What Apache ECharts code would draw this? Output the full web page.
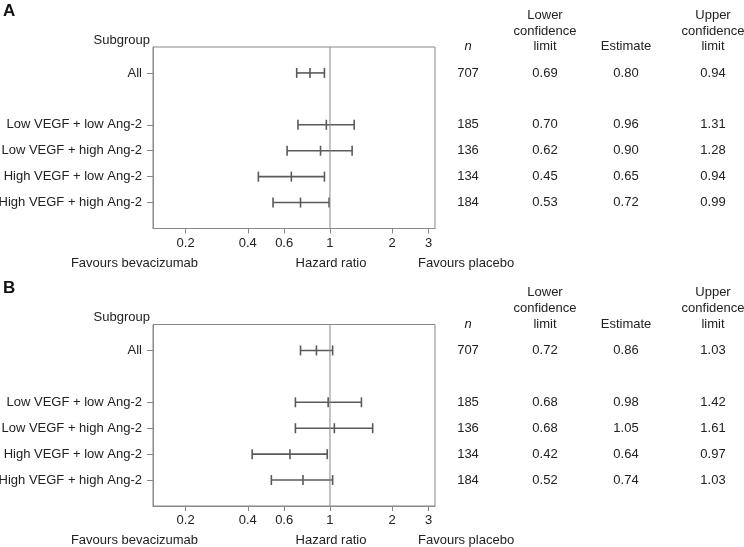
<!DOCTYPE html>
<html>
<head>
<meta charset="utf-8">
<script src="https://cdn.jsdelivr.net/npm/echarts@6/dist/echarts.min.js"></script>
<style>html,body{margin:0;padding:0;background:#fff}#c{width:744px;height:547px}</style>
</head>
<body>
<div id="c"></div>
<script>
// ---- data ----
const subgroups = ['All', 'Low VEGF + low Ang-2', 'Low VEGF + high Ang-2', 'High VEGF + low Ang-2', 'High VEGF + high Ang-2'];
const rowPos = [0, 2, 3, 4, 5];
const nA = [707, 185, 136, 134, 184];
const lowerA = [0.69, 0.70, 0.62, 0.45, 0.53];
const estA = [0.80, 0.96, 0.90, 0.65, 0.72];
const upperA = [0.94, 1.31, 1.28, 0.94, 0.99];
const nB = [707, 185, 136, 134, 184];
const lowerB = [0.72, 0.68, 0.68, 0.42, 0.52];
const estB = [0.86, 0.98, 1.05, 0.64, 0.74];
const upperB = [1.03, 1.42, 1.61, 0.97, 1.03];
const tickValues = [0.2, 0.4, 0.6, 1, 2, 3];
const xRange = [0.139, 3.225];
const refValue = 1;

// ---- layout / style ----
const FONT = 'Liberation Sans, Arial, Helvetica, sans-serif';
const TXT = '#222';
const BORDER = '#888';
const BAR = '#5a5a5a';
const panelTop = [47, 324.5];
const panelH = 181.5;
const colX = {n: 468, lo: 545, est: 626, hi: 713};
const L = Math.log10;

const chart = echarts.init(document.getElementById('c'), null, {renderer: 'canvas'});

function makeData(n, lo, est, hi) {
  return rowPos.map((y, i) => [L(est[i]), y, L(lo[i]), L(hi[i]), n[i], lo[i], est[i], hi[i]]);
}

function renderItem(params, api) {
  const y = api.value(1);
  const pl = api.coord([api.value(2), y]);
  const pe = api.coord([api.value(0), y]);
  const ph = api.coord([api.value(3), y]);
  const cap = 5;
  const ls = {stroke: BAR, lineWidth: 1.6};
  const txt = (x, s) => ({type: 'text', style: {text: s, x: x, y: pe[1], align: 'center', verticalAlign: 'middle', fill: TXT, font: '13px ' + FONT}});
  return {
    type: 'group',
    children: [
      {type: 'line', shape: {x1: pl[0], y1: pl[1], x2: ph[0], y2: ph[1]}, style: ls},
      {type: 'line', shape: {x1: pl[0], y1: pl[1] - cap, x2: pl[0], y2: pl[1] + cap}, style: ls},
      {type: 'line', shape: {x1: pe[0], y1: pe[1] - cap, x2: pe[0], y2: pe[1] + cap}, style: ls},
      {type: 'line', shape: {x1: ph[0], y1: ph[1] - cap, x2: ph[0], y2: ph[1] + cap}, style: ls},
      txt(colX.n, String(api.value(4))),
      txt(colX.lo, Number(api.value(5)).toFixed(2)),
      txt(colX.est, Number(api.value(6)).toFixed(2)),
      txt(colX.hi, Number(api.value(7)).toFixed(2))
    ]
  };
}

const grids = [], xAxes = [], yAxes = [], series = [], graphics = [];
const sets = [[nA, lowerA, estA, upperA], [nB, lowerB, estB, upperB]];
['A', 'B'].forEach((name, k) => {
  const top = panelTop[k];
  grids.push({left: 153, width: 282, top: top, height: panelH, show: true, borderColor: BORDER, borderWidth: 1, containLabel: false, outerBoundsMode: 'none'});
  xAxes.push({
    type: 'value', gridIndex: k, min: L(xRange[0]), max: L(xRange[1]),
    splitLine: {show: false},
    axisLine: {show: true, onZero: false, lineStyle: {color: BORDER, width: 1}},
    axisTick: {show: true, inside: false, length: 5, lineStyle: {color: BORDER}, customValues: tickValues.map(L)},
    axisLabel: {show: true, margin: 8, color: TXT, fontSize: 13, fontFamily: FONT, customValues: tickValues.map(L),
      formatter: v => String(Number(Math.pow(10, v).toFixed(1)))}
  });
  yAxes.push({
    type: 'value', gridIndex: k, min: -1, max: 6, inverse: true,
    splitLine: {show: false},
    axisLine: {show: true, onZero: false, lineStyle: {color: BORDER, width: 1}},
    axisTick: {show: true, inside: false, length: 6, lineStyle: {color: BORDER}, customValues: rowPos},
    axisLabel: {show: true, margin: 11, color: TXT, fontSize: 13, fontFamily: FONT, customValues: rowPos,
      formatter: v => subgroups[rowPos.indexOf(Math.round(v))] || ''}
  });
  series.push({
    type: 'line', xAxisIndex: k, yAxisIndex: k, data: [[L(refValue), -1], [L(refValue), 6]],
    symbol: 'none', silent: true, lineStyle: {color: BORDER, width: 1}, animation: false
  });
  series.push({
    type: 'custom', xAxisIndex: k, yAxisIndex: k, renderItem: renderItem, clip: false, animation: false,
    encode: {x: 0, y: 1},
    data: makeData.apply(null, sets[k])
  });
  const off = k === 0 ? 0 : 277.5;
  const t = (x, y, s, extra) => ({type: 'text', x: x, y: y, style: Object.assign({text: s, fill: TXT, font: '13px ' + FONT, align: 'center', verticalAlign: 'middle'}, extra || {})});
  graphics.push(t(3, 11 + off, name, {align: 'left', font: 'bold 17px ' + FONT, fill: '#111'}));
  graphics.push(t(150, 40 + off, 'Subgroup', {align: 'right'}));
  graphics.push(t(colX.n, 46.5 + off, 'n', {font: 'italic 13px ' + FONT}));
  graphics.push(t(colX.lo, 15 + off, 'Lower'));
  graphics.push(t(colX.lo, 31 + off, 'confidence'));
  graphics.push(t(colX.lo, 46.5 + off, 'limit'));
  graphics.push(t(colX.est, 46.5 + off, 'Estimate'));
  graphics.push(t(colX.hi, 15 + off, 'Upper'));
  graphics.push(t(colX.hi, 31 + off, 'confidence'));
  graphics.push(t(colX.hi, 46.5 + off, 'limit'));
  graphics.push(t(134.5, 263 + off, 'Favours bevacizumab'));
  graphics.push(t(331, 263 + off, 'Hazard ratio'));
  graphics.push(t(418, 263 + off, 'Favours placebo', {align: 'left'}));
});

chart.setOption({
  animation: false,
  grid: grids,
  xAxis: xAxes,
  yAxis: yAxes,
  series: series,
  graphic: graphics
});
</script>
</body>
</html>
